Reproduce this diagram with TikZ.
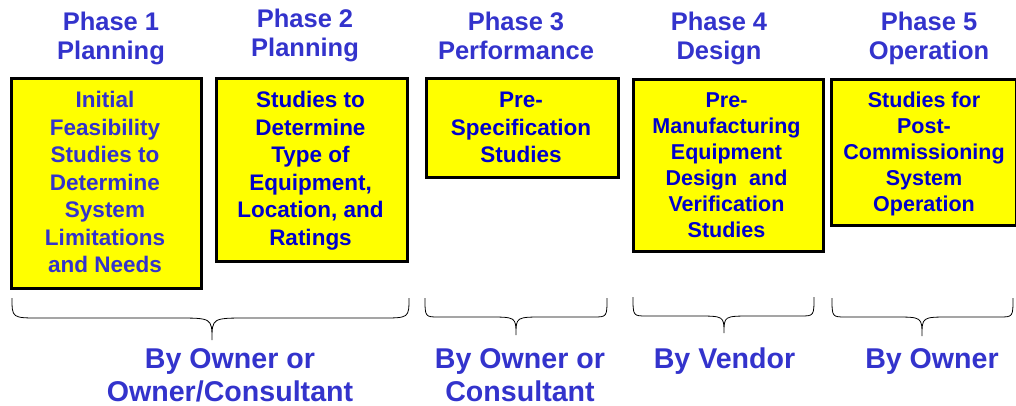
\documentclass[tikz,border=0pt]{standalone}
\usepackage{fontspec}
\setmainfont{Liberation Sans}
\definecolor{headblue}{RGB}{51,51,204}
\definecolor{boxblue}{RGB}{0,0,204}
\definecolor{boxyellow}{RGB}{255,255,0}
\begin{document}
\begin{tikzpicture}[x=1pt,y=-1pt,
  phase/.style={align=center, anchor=base, inner sep=0pt, text=headblue,
    font=\fontsize{25.5}{29}\selectfont\bfseries},
  stagebox/.style={draw=black, fill=boxyellow, line width=2.6pt, inner sep=0pt,
    anchor=north west},
  boxtext/.style={align=center, anchor=base, inner sep=0pt, text=boxblue,
    font=\fontsize{22.5}{27.5}\selectfont\bfseries},
  smalltext/.style={boxtext, font=\fontsize{21.5}{26}\selectfont\bfseries},
  who/.style={align=center, anchor=base, inner sep=0pt, text=headblue,
    font=\fontsize{28.6}{33}\selectfont\bfseries},
  bracket/.style={draw=black, line width=0.8pt}]
\useasboundingbox (0,0) rectangle (1016,405);

% phase headings (anchored on the baseline of the last line)
\node[phase] (h1) at (111,59) {Phase 1\\Planning};
\node[phase] (h2) at (305,56.5) {Phase 2\\Planning};
\node[phase] (h3) at (516,59) {Phase 3\\Performance};
\node[phase] (h4) at (719,59) {Phase 4\\Design};
\node[phase] (h5) at (929,59) {Phase 5\\Operation};

% study boxes
\node[stagebox, minimum width=190pt, minimum height=210pt] (b1) at (10,77) {};
\node[stagebox, minimum width=191pt, minimum height=183pt] (b2) at (215,77) {};
\node[stagebox, minimum width=192pt, minimum height=99pt] (b3) at (425,77) {};
\node[stagebox, minimum width=190pt, minimum height=172pt] (b4) at (632,78) {};
\node[stagebox, minimum width=185pt, minimum height=146pt] (b5) at (830,78) {};

\node[boxtext, text=headblue] (t1) at (105,272.7)
  {Initial\\Feasibility\\Studies to\\Determine\\System\\Limitations\\and Needs};
\node[boxtext] (t2) at (310.5,245.2)
  {Studies to\\Determine\\Type of\\Equipment,\\Location, and\\Ratings};
\node[boxtext] (t3) at (521,162.7) {Pre-\\Specification\\Studies};
\node[smalltext] (t4) at (726.5,237)
  {Pre-\\Manufacturing\\Equipment\\Design\ \ and\\Verification\\Studies};
\node[smalltext] (t5) at (924,211.5)
  {Studies for\\Post-\\Commissioning\\System\\Operation};

% braces grouping the phases
\draw[bracket] (12,298) .. controls (12,318) .. (40,318) -- (176,318)
  .. controls (212,318) .. (212,340) .. controls (212,318) .. (248,318)
  -- (381,318) .. controls (409,318) .. (409,298);
\draw[bracket] (425,298) .. controls (425,317) .. (439,317) -- (488,317)
  .. controls (516,317) .. (516,335) .. controls (516,317) .. (544,317)
  -- (593,317) .. controls (607,317) .. (607,298);
\draw[bracket] (633,297) .. controls (633,316) .. (647,316) -- (696,316)
  .. controls (724,316) .. (724,333) .. controls (724,316) .. (752,316)
  -- (800,316) .. controls (814,316) .. (814,297);
\draw[bracket] (832,298) .. controls (832,317) .. (846,317) -- (894,317)
  .. controls (922,317) .. (922,336) .. controls (922,317) .. (950,317)
  -- (999,317) .. controls (1013,317) .. (1013,298);

% responsible parties
\node[who] (w1) at (230,401) {By Owner or\\Owner/Consultant};
\node[who] (w2) at (520,401) {By Owner or\\Consultant};
\node[who] (w3) at (724.5,368) {By Vendor};
\node[who] (w4) at (932,368) {By Owner};
\end{tikzpicture}
\end{document}
